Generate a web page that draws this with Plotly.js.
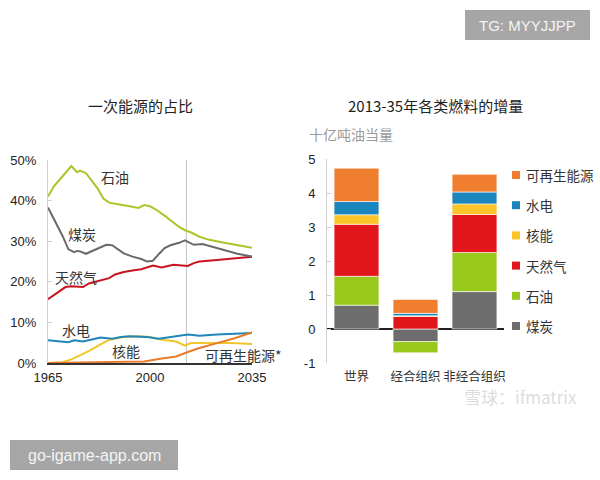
<!DOCTYPE html>
<html>
<head>
<meta charset="utf-8">
<script src="https://cdn.plot.ly/plotly-3.0.1.min.js"></script>
<style>
  html, body { margin: 0; padding: 0; background: #fff; }
  #chart { width: 600px; height: 480px; }
</style>
</head>
<body>
<div id="chart"></div>
<script>
// ---- Left panel: share of primary energy (%) ----
const oilYears   = [1965, 1967, 1970, 1973, 1975, 1976, 1978, 1980, 1982, 1984, 1986, 1988, 1991, 1993, 1996, 1998, 2000, 2002, 2005, 2008, 2010, 2012, 2014, 2017, 2020, 2025, 2030, 2035];
const oilShare   = [41.0, 43.5, 46.0, 48.5, 47.0, 47.4, 46.8, 45.0, 43.0, 40.5, 39.5, 39.2, 38.9, 38.6, 38.2, 38.9, 38.6, 37.8, 36.3, 34.6, 33.5, 32.7, 32.2, 31.1, 30.4, 29.7, 29.1, 28.4];

const coalYears  = [1965, 1967, 1970, 1972, 1974, 1975, 1976, 1978, 1980, 1982, 1985, 1987, 1989, 1991, 1994, 1997, 1999, 2001, 2003, 2005, 2007, 2010, 2012, 2013, 2015, 2018, 2021, 2025, 2030, 2035];
const coalShare  = [38.3, 35.5, 31.3, 28.0, 27.3, 27.6, 27.5, 26.9, 27.5, 28.3, 29.1, 29.0, 28.0, 27.0, 26.2, 25.6, 25.0, 25.2, 26.8, 28.3, 29.0, 29.6, 30.2, 29.8, 29.1, 29.3, 28.7, 27.8, 26.9, 26.2];

const gasYears   = [1965, 1968, 1971, 1973, 1977, 1979, 1982, 1986, 1988, 1991, 1994, 1997, 2001, 2004, 2008, 2013, 2015, 2017, 2023, 2029, 2035];
const gasShare   = [15.7, 17.3, 18.7, 18.9, 18.7, 19.6, 20.2, 20.9, 21.8, 22.4, 22.8, 23.1, 24.0, 23.5, 24.2, 23.9, 24.6, 25.0, 25.4, 25.8, 26.2];

const hydroYears = [1965, 1969, 1972, 1974, 1977, 1980, 1983, 1987, 1990, 1993, 1996, 1999, 2003, 2006, 2009, 2013, 2017, 2023, 2035];
const hydroShare = [5.6, 5.3, 5.1, 5.6, 5.3, 5.8, 6.3, 6.0, 6.4, 6.6, 6.5, 6.4, 6.0, 6.3, 6.6, 7.0, 6.7, 7.0, 7.4];

const nucYears   = [1965, 1970, 1973, 1975, 1979, 1983, 1986, 1991, 1996, 2000, 2004, 2009, 2012, 2014, 2020, 2028, 2035];
const nucShare   = [0.0, 0.2, 0.9, 1.6, 2.9, 4.6, 5.7, 6.4, 6.6, 6.4, 5.7, 5.3, 4.3, 4.9, 4.9, 4.9, 4.7];

const renYears   = [1965, 1980, 1989, 1998, 2003, 2009, 2013, 2017, 2023, 2029, 2035];
const renShare   = [0.0, 0.1, 0.2, 0.4, 1.0, 1.6, 2.7, 3.7, 4.9, 6.1, 7.5];

const shareTicks = [0, 10, 20, 30, 40, 50];
const yearTicks  = [1965, 2000, 2035];
const outlookStart = 2012.5;

// ---- Right panel: increment by fuel 2013-35 (billion toe) ----
const regions    = ['世界', '经合组织', '非经合组织'];
const incCoal    = [0.70, -0.37, 1.10];
const incOil     = [0.85, -0.33, 1.15];
const incGas     = [1.53, 0.37, 1.12];
const incNuclear = [0.28, 0.02, 0.31];
const incHydro   = [0.39, 0.07, 0.35];
const incRenew   = [0.98, 0.41, 0.52];
const incTicks   = [-1, 0, 1, 2, 3, 4, 5];

const fuelNames  = ['煤炭', '石油', '天然气', '核能', '水电', '可再生能源'];

// ---- Colours ----
const lineColors = { oil: '#a9c62a', coal: '#6a6a6a', gas: '#c8141e', hydro: '#1f87b8', nuc: '#f2c62a', ren: '#e77b2c' };
const barColors  = ['#6d6d6d', '#98c81c', '#e2151b', '#fbc52a', '#1b85bd', '#ef7f2e'];

// pixel -> paper helpers
const W = 600, H = 480;
const px = x => x / W;
const py = y => 1 - y / H;

const CJK = '"Noto Sans CJK SC", "Noto Sans", sans-serif';
const LAT = '"Liberation Sans", Arial, sans-serif';

function line(xs, ys, color, name) {
  return { type: 'scatter', mode: 'lines', x: xs, y: ys, name: name,
           line: { color: color, width: 2 },
           xaxis: 'x', yaxis: 'y', showlegend: false, hoverinfo: 'skip' };
}

const traces = [
  line(nucYears, nucShare, lineColors.nuc, '核能'),
  line(hydroYears, hydroShare, lineColors.hydro, '水电'),
  line(renYears, renShare, lineColors.ren, '可再生能源'),
  line(gasYears, gasShare, lineColors.gas, '天然气'),
  line(coalYears, coalShare, lineColors.coal, '煤炭'),
  line(oilYears, oilShare, lineColors.oil, '石油'),
];

const incSeries = [incCoal, incOil, incGas, incNuclear, incHydro, incRenew];
incSeries.forEach((vals, i) => {
  traces.push({ type: 'bar', x: regions, y: vals, name: fuelNames[i],
                marker: { color: barColors[i], line: { color: '#ffffff', width: 0.6 } },
                xaxis: 'x2', yaxis: 'y2', showlegend: false, hoverinfo: 'skip' });
});

// Hand-placed legend for the bar panel (top-down: last fuel first)
const shapes = [];
const annotations = [];
const legendTop = 175, legendStep = 30.2;
for (let k = 0; k < fuelNames.length; k++) {
  const i = fuelNames.length - 1 - k;
  const yc = legendTop + k * legendStep;
  shapes.push({ type: 'rect', xref: 'paper', yref: 'paper',
                x0: px(512), x1: px(520), y0: py(yc + 4), y1: py(yc - 4),
                fillcolor: barColors[i], line: { width: 0 } });
  annotations.push({ xref: 'paper', yref: 'paper', x: px(524), y: py(yc), xanchor: 'left', yanchor: 'middle',
                     text: fuelNames[i], showarrow: false, font: { family: CJK, size: 13.5, color: '#333' } });
}

// Outlook start marker on the share panel
shapes.push({ type: 'line', xref: 'x', yref: 'y', x0: outlookStart, x1: outlookStart, y0: 0, y1: 50,
              line: { color: '#c4c4c4', width: 1 }, layer: 'below' });

// Watermark boxes
shapes.push({ type: 'rect', xref: 'paper', yref: 'paper', x0: px(465), x1: px(590), y0: py(40), y1: py(10),
              fillcolor: '#a6a6a6', line: { width: 0 } });
shapes.push({ type: 'rect', xref: 'paper', yref: 'paper', x0: px(10), x1: px(178), y0: py(470), y1: py(440),
              fillcolor: '#a6a6a6', line: { width: 0 } });

function label(x, y, text, opts) {
  annotations.push(Object.assign({ xref: 'paper', yref: 'paper', x: px(x), y: py(y),
    xanchor: 'center', yanchor: 'middle', text: text, showarrow: false,
    font: { family: CJK, size: 14, color: '#333' } }, opts || {}));
}

// Titles
label(140, 105, '一次能源的占比', { font: { family: CJK, size: 15, color: '#222' } });
label(435, 105, '2013-35年各类燃料的增量', { font: { family: CJK, size: 15, color: '#222' } });
label(307, 134, '十亿吨油当量', { xanchor: 'left', font: { family: CJK, size: 14, color: '#9a9a9a' } });

// Line labels
label(115, 177, '石油');
label(82, 234, '煤炭');
label(76, 277, '天然气');
label(76, 330, '水电');
label(126, 351, '核能');
label(243, 355, '可再生能源*');

// Watermark texts
label(527, 25, 'TG: MYYJJPP', { font: { family: LAT, size: 15, color: '#f4f4f4' } });
label(94, 455, 'go-igame-app.com', { font: { family: LAT, size: 16, color: '#f4f4f4' } });
label(520, 396, '雪球：ifmatrix', { font: { family: CJK, size: 17, color: 'rgba(175,175,175,0.45)' } });

const layout = {
  width: W, height: H,
  margin: { l: 0, r: 0, t: 0, b: 0 },
  paper_bgcolor: '#ffffff', plot_bgcolor: '#ffffff',
  font: { family: LAT, size: 13, color: '#222' },
  showlegend: false,
  barmode: 'relative',
  bargap: 0.24,
  xaxis: {
    domain: [px(48), px(252)], range: [1965, 2035],
    tickmode: 'array', tickvals: yearTicks, ticktext: yearTicks.map(String),
    showgrid: false, zeroline: false, showline: true, linecolor: '#333', linewidth: 1.5,
    ticks: '', tickfont: { family: LAT, size: 13, color: '#222' }, anchor: 'y',
    ticklabelstandoff: 2, tickangle: 0
  },
  yaxis: {
    domain: [py(363), py(160)], range: [0, 50],
    tickmode: 'array', tickvals: shareTicks, ticktext: shareTicks.map(v => v + '%'),
    showgrid: false, zeroline: false, showline: true, linecolor: '#d0d0d0', linewidth: 1,
    ticks: 'inside', ticklen: 4, tickcolor: '#d0d0d0',
    tickfont: { family: LAT, size: 13, color: '#222' }, anchor: 'x', ticklabelstandoff: 8
  },
  xaxis2: {
    domain: [px(327), px(504)], range: [-0.5, 2.5], type: 'category',
    showgrid: false, zeroline: false, showline: false, ticks: '', tickangle: 0,
    tickfont: { family: CJK, size: 12.5, color: '#333' }, anchor: 'free', position: py(363),
    ticklabelstandoff: 4
  },
  yaxis2: {
    domain: [py(363), py(159)], range: [-1, 5],
    tickmode: 'array', tickvals: incTicks, ticktext: incTicks.map(String),
    showgrid: false, zeroline: true, zerolinecolor: '#222', zerolinewidth: 1.5,
    showline: true, linecolor: '#d0d0d0', linewidth: 1,
    ticks: 'inside', ticklen: 4, tickcolor: '#d0d0d0',
    tickfont: { family: LAT, size: 13, color: '#222' }, anchor: 'x2', ticklabelstandoff: 8
  },
  shapes: shapes,
  annotations: annotations
};

Plotly.newPlot('chart', traces, layout, { displayModeBar: false, staticPlot: true });
</script>
</body>
</html>
